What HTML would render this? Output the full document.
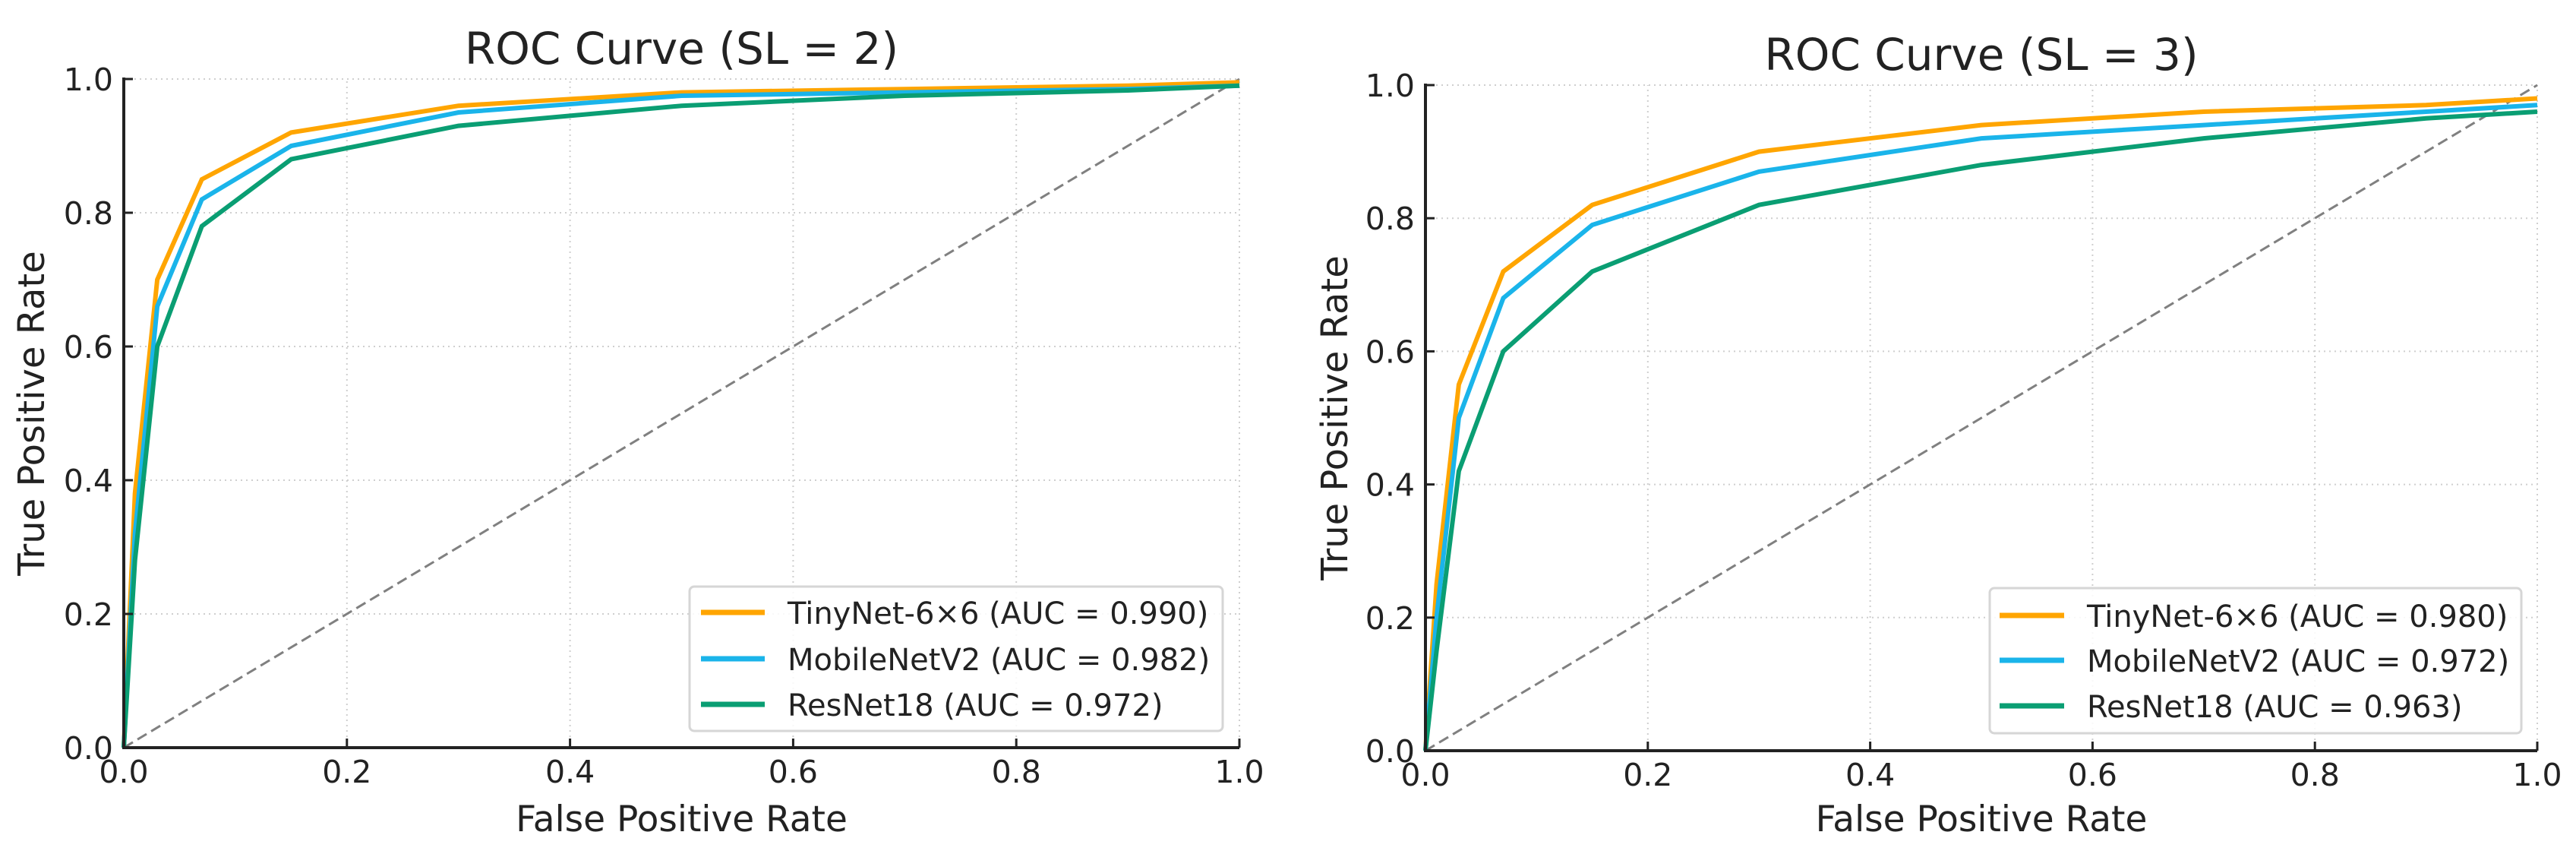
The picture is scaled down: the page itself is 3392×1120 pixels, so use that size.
<!DOCTYPE html>
<html><head><meta charset="utf-8">
<style>
html,body{margin:0;padding:0;background:#fff;}
svg{display:block;font-family:"DejaVu Sans","Liberation Sans",sans-serif;}
</style></head>
<body>
<svg id="fig" width="3392" height="1120" viewBox="0 0 3392 1120" xmlns="http://www.w3.org/2000/svg"></svg>
<script>
const fprSL2 = [0, 0.01, 0.03, 0.07, 0.15, 0.3, 0.5, 0.7, 0.9, 1.0];
const tinySL2 = [0, 0.38, 0.70, 0.85, 0.92, 0.96, 0.98, 0.985, 0.99, 0.995];
const mobileSL2 = [0, 0.32, 0.66, 0.82, 0.90, 0.95, 0.975, 0.98, 0.985, 0.99];
const resSL2 = [0, 0.28, 0.60, 0.78, 0.88, 0.93, 0.96, 0.975, 0.983, 0.99];

const fprSL3 = [0, 0.01, 0.03, 0.07, 0.15, 0.3, 0.5, 0.7, 0.9, 1.0];
const tinySL3 = [0, 0.25, 0.55, 0.72, 0.82, 0.90, 0.94, 0.96, 0.97, 0.98];
const mobileSL3 = [0, 0.20, 0.50, 0.68, 0.79, 0.87, 0.92, 0.94, 0.96, 0.97];
const resSL3 = [0, 0.15, 0.42, 0.60, 0.72, 0.82, 0.88, 0.92, 0.95, 0.96];

const tickVals = [0, 0.2, 0.4, 0.6, 0.8, 1.0];
const tickLabels = ["0.0", "0.2", "0.4", "0.6", "0.8", "1.0"];
const seriesNames = ["TinyNet-6×6", "MobileNetV2", "ResNet18"];
const aucSL2 = ["0.990", "0.982", "0.972"];
const aucSL3 = ["0.980", "0.972", "0.963"];

const colors = ["#FFA500", "#1AB4EA", "#0A9E73"];
const NS = "http://www.w3.org/2000/svg";
const svg = document.getElementById("fig");

function mk(tag, attrs, parent, text) {
  const e = document.createElementNS(NS, tag);
  for (const k in attrs) e.setAttribute(k, attrs[k]);
  if (text !== undefined) e.textContent = text;
  parent.appendChild(e);
  return e;
}

function panel(cfg) {
  const g = mk("g", {}, svg);
  
  
  const sx = v => cfg.x0 + v * (cfg.x1 - cfg.x0);
  const sy = v => cfg.y0 + v * (cfg.y1 - cfg.y0);

  tickVals.forEach((t, i) => {
    if (t > 0) {
      const gv = mk("line", {x1: sx(t), x2: sx(t), y1: sy(0), y2: sy(1), stroke: "#cfcfcf", "stroke-width": 2, "stroke-dasharray": "2 5"}, g);
      
      
      const gh = mk("line", {x1: sx(0), x2: sx(1), y1: sy(t), y2: sy(t), stroke: "#cfcfcf", "stroke-width": 2, "stroke-dasharray": "2 5"}, g);
      
      
    }
  });

  const diag = mk("line", {x1: sx(0), y1: sy(0), x2: sx(1), y2: sy(1), stroke: "#808080", "stroke-width": 3, "stroke-dasharray": "14 7"}, g);
  
  

  cfg.series.forEach((ys, si) => {
    const pts = cfg.fpr.map((f, i) => sx(f).toFixed(1) + "," + sy(ys[i]).toFixed(1)).join(" ");
    const pl = mk("polyline", {points: pts, fill: "none", stroke: colors[si], "stroke-width": 6, "stroke-linejoin": "miter"}, g);
    
    
  });

  const sp = mk("path", {d: `M${sx(0)},${sy(1)-2} V${sy(0)} H${sx(1)}`, fill: "none", stroke: "#222", "stroke-width": 4}, g);
  
  

  tickVals.forEach((t, i) => {
    const tx = mk("line", {x1: sx(t), x2: sx(t), y1: sy(0), y2: sy(0) - 12, stroke: "#222", "stroke-width": 3}, g);
    
    
    const ty = mk("line", {x1: sx(0), x2: sx(0) + 12, y1: sy(t), y2: sy(t), stroke: "#222", "stroke-width": 3}, g);
    
    
    const lx = mk("text", {x: sx(t), y: sy(0) + 46, "text-anchor": "middle", "font-size": 41, fill: "#222"}, g, tickLabels[i]);
    
    
    const ly = mk("text", {x: sx(0) - 14, y: sy(t) + 15, "text-anchor": "end", "font-size": 41, fill: "#222"}, g, tickLabels[i]);
    
    
  });

  const cx = (cfg.x0 + cfg.x1) / 2;
  const title = mk("text", {x: cx, y: cfg.titleY, "text-anchor": "middle", "font-size": 58, fill: "#222"}, g, cfg.title);
  
  

  const xl = mk("text", {x: cx, y: 1094, "text-anchor": "middle", "font-size": 47, fill: "#222"}, g, "False Positive Rate");
  
  

  const ymid = (cfg.y0 + cfg.y1) / 2;
  const yl = mk("text", {x: 0, y: 0, "text-anchor": "middle", "font-size": 48, fill: "#222", transform: `translate(${cfg.ylabX},${ymid}) rotate(-90)`}, g, "True Positive Rate");
  
  

  const L = cfg.legend;
  const lg = mk("g", {}, g);
  
  
  const box = mk("rect", {x: L.x, y: L.y, width: L.w, height: L.h, rx: 6, fill: "#fff", "fill-opacity": 0.85, stroke: "#d6d6d6", "stroke-width": 3}, lg);
  
  
  seriesNames.forEach((n, i) => {
    const ry = L.rows[i];
    const ln = mk("line", {x1: L.lx1, x2: L.lx2, y1: ry, y2: ry, stroke: colors[i], "stroke-width": 7}, lg);
    
    
    const tt = mk("text", {x: L.tx, y: ry + 15, "font-size": 40, fill: "#222"}, lg, `${n} (AUC = ${cfg.auc[i]})`);
    
    
  });
}

panel({
  name: "roc-panel-sl2", title: "ROC Curve (SL = 2)", titleY: 84,
  x0: 163, x1: 1632, y0: 984, y1: 104, ylabX: 58,
  fpr: fprSL2, series: [tinySL2, mobileSL2, resSL2], auc: aucSL2,
  legend: {x: 908, y: 772, w: 702, h: 190, lx1: 923, lx2: 1007, tx: 1037, rows: [806, 867, 927]}
});
panel({
  name: "roc-panel-sl3", title: "ROC Curve (SL = 3)", titleY: 92,
  x0: 1877, x1: 3341, y0: 988, y1: 112, ylabX: 1774,
  fpr: fprSL3, series: [tinySL3, mobileSL3, resSL3], auc: aucSL3,
  legend: {x: 2620, y: 774, w: 700, h: 191, lx1: 2633, lx2: 2718, tx: 2748, rows: [810, 869, 929]}
});
</script>
</body></html>
